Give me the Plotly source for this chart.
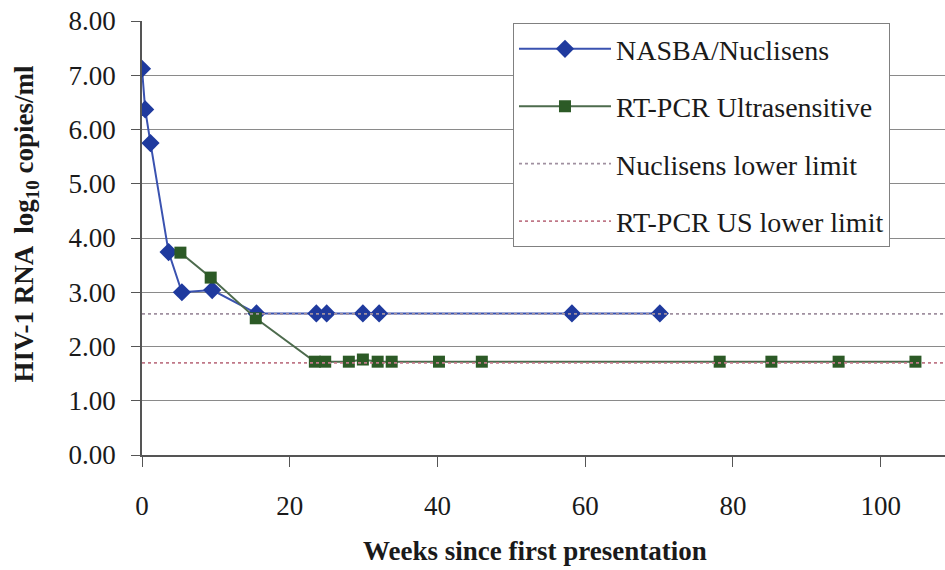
import plotly.graph_objects as go

# Data
nasba_weeks = [0, 0.43, 1.15, 3.6, 5.4, 9.5, 15.5, 23.6, 25.0, 29.9, 32.1, 58.2, 70.1]
nasba_vals = [7.12, 6.37, 5.75, 3.74, 3.00, 3.04, 2.61, 2.61, 2.61, 2.61, 2.61, 2.61, 2.61]

rtpcr_weeks = [5.2, 9.3, 15.4, 23.4, 24.8, 28.0, 29.9, 31.9, 33.8, 40.2, 46.0, 78.2, 85.2, 94.3, 104.7]
rtpcr_vals = [3.73, 3.27, 2.52, 1.72, 1.72, 1.72, 1.76, 1.72, 1.72, 1.72, 1.72, 1.72, 1.72, 1.72, 1.72]

x_range = [0, 108.7]
nuclisens_limit = 2.60
rtpcr_limit = 1.70

y_ticks = [0, 1, 2, 3, 4, 5, 6, 7, 8]
x_ticks = [0, 20, 40, 60, 80, 100]

FONT = "Liberation Serif"

fig = go.Figure()
fig.add_trace(go.Scatter(
    x=nasba_weeks, y=nasba_vals, mode="lines+markers", name="NASBA/Nuclisens",
    line=dict(color="#3a52b0", width=2),
    marker=dict(symbol="diamond", size=14, color="#1f3a9e"),
    legendgroup="a"))
fig.add_trace(go.Scatter(
    x=rtpcr_weeks, y=rtpcr_vals, mode="lines+markers", name="RT-PCR Ultrasensitive",
    line=dict(color="#4d6b4d", width=2),
    marker=dict(symbol="square", size=12, color="#2c5a26"),
    legendgroup="b"))
fig.add_trace(go.Scatter(
    x=x_range, y=[nuclisens_limit] * 2, mode="lines", name="Nuclisens lower limit",
    line=dict(color="#a090a0", width=1.8, dash="dot"), legendgroup="c"))
fig.add_trace(go.Scatter(
    x=x_range, y=[rtpcr_limit] * 2, mode="lines", name="RT-PCR US lower limit",
    line=dict(color="#c07888", width=1.8, dash="dot"), legendgroup="d"))

fig.update_layout(
    width=945, height=570,
    margin=dict(l=142, r=0, t=21, b=115, autoexpand=False),
    paper_bgcolor="white", plot_bgcolor="white",
    font=dict(family=FONT, size=27, color="#1a1a1a"),
    showlegend=True,
    legend=dict(
        x=0.462, y=0.995, xanchor="left", yanchor="top",
        bgcolor="white", bordercolor="#808080", borderwidth=1,
        font=dict(family=FONT, size=28, color="#1a1a1a"),
        traceorder="grouped", tracegroupgap=18, itemwidth=92,
    ),
    xaxis=dict(
        range=x_range, tickvals=x_ticks, showgrid=False, zeroline=False,
        showline=True, linecolor="#555555", linewidth=1.5,
        ticks="outside", ticklen=10, tickcolor="#555555",
        ticklabelstandoff=16, automargin=False, ticklabeloverflow="allow",
    ),
    yaxis=dict(
        range=[0, 8], tickvals=y_ticks, tickformat=".2f",
        showgrid=True, gridcolor="#8a8a8a", gridwidth=1, zeroline=False,
        showline=True, linecolor="#555555", linewidth=1.5,
        ticks="outside", ticklen=9, tickcolor="#555555",
        ticklabelstandoff=10, automargin=False, ticklabeloverflow="allow",
    ),
    annotations=[
        dict(text="<b>HIV-1 RNA  log<sub>10</sub> copies/ml</b>", xref="paper", yref="paper",
             x=-0.144, y=0.532, xanchor="center", yanchor="middle", textangle=-90,
             showarrow=False, font=dict(family=FONT, size=27, color="#1a1a1a")),
        dict(text="<b>Weeks since first presentation</b>", xref="paper", yref="paper",
             x=0.49, y=-0.221, xanchor="center", yanchor="middle",
             showarrow=False, font=dict(family=FONT, size=27, color="#1a1a1a")),
    ],
)

fig.write_html("out.html", config={"displayModeBar": False},
               post_script="document.body.style.margin='0';")
